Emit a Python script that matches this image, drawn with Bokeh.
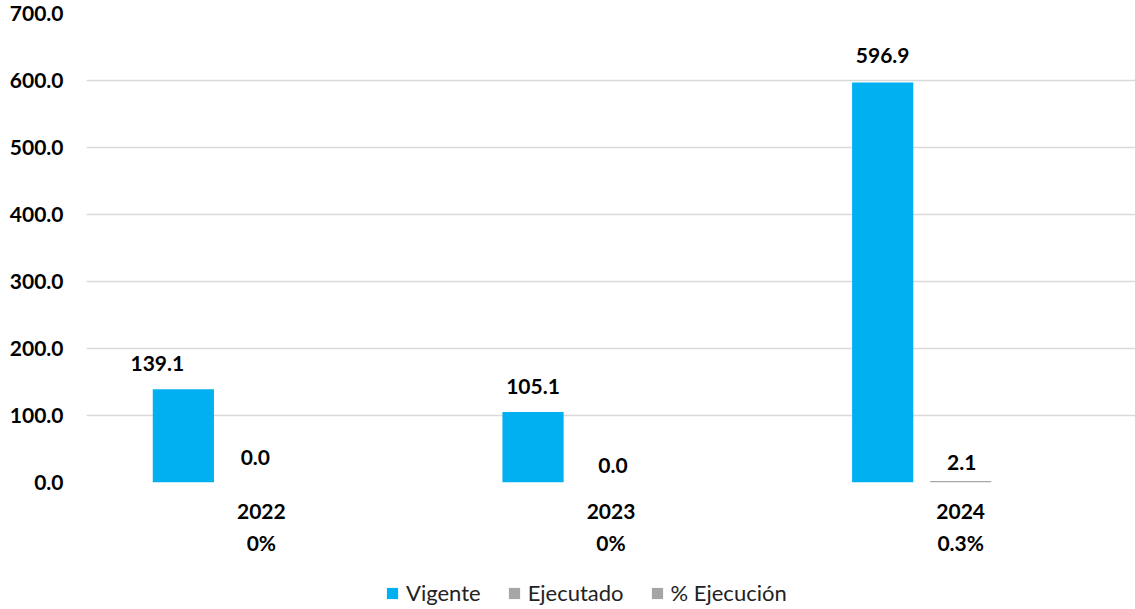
from bokeh.plotting import figure
from bokeh.layouts import column
from bokeh.models import (ColumnDataSource, FactorRange, Range1d, LabelSet, Legend,
                          LegendItem, FixedTicker, NumeralTickFormatter)
from bokeh.core.properties import value
from bokeh.transform import dodge
from bokeh.embed import file_html
from bokeh.resources import INLINE

# ---- data ----
years = ["2022", "2023", "2024"]
pct_labels = ["0%", "0%", "0.3%"]
vigente = [139.1, 105.1, 596.9]
ejecutado = [0.0, 0.0, 2.1]
pct_ejecucion = [0.0, 0.0, 0.003]
y_ticks = [0, 100, 200, 300, 400, 500, 600, 700]
series_names = ["Vigente", "Ejecutado", "% Ejecución"]
series_colors = ["#00B0F0", "#A6A6A6", "#A5A5A5"]

# ---- styling (label nudges in pixels) ----
vig_dx = [-26, 0, 0]
vig_dy = [26, 26, 27]
eje_dx = [-6, 2, 1]
eje_dy = [25, 17, 19]

FONT = "Lato"
factors = [f"{y}\n{p}" for y, p in zip(years, pct_labels)]

src = ColumnDataSource(dict(
    cat=factors, vig=vigente, eje=ejecutado, pct=pct_ejecucion,
    vig_txt=[f"{v:.1f}" for v in vigente],
    eje_txt=[f"{v:.1f}" for v in ejecutado],
    vig_dx=vig_dx, vig_dy=vig_dy, eje_dx=eje_dx, eje_dy=eje_dy,
))

p = figure(x_range=FactorRange(factors=factors), y_range=Range1d(0, 700),
           width=1135, height=573, output_backend="svg", toolbar_location=None,
           min_border_left=86, min_border_right=0, min_border_top=13,
           min_border_bottom=91)
p.outline_line_color = None
p.background_fill_color = "white"
p.border_fill_color = "white"

W = 0.175
OFF = 0.223
p.vbar(x=dodge("cat", -OFF, range=p.x_range), top="vig", width=W, source=src,
       fill_color=series_colors[0], line_color=None)
p.vbar(x=dodge("cat", 0.0, range=p.x_range), top="eje", width=W, source=src,
       fill_color=series_colors[1], line_color=None)
p.vbar(x=dodge("cat", OFF, range=p.x_range), top="pct", width=W, source=src,
       fill_color=series_colors[2], line_color=None)

lab_kw = dict(source=src, text_align="center", text_baseline="middle",
              text_font=value(FONT), text_font_style="bold",
              text_font_size="21px", text_color="black")
p.add_layout(LabelSet(x=dodge("cat", -OFF, range=p.x_range), y="vig", text="vig_txt",
                      x_offset="vig_dx", y_offset="vig_dy", **lab_kw))
p.add_layout(LabelSet(x=dodge("cat", 0.0, range=p.x_range), y="eje", text="eje_txt",
                      x_offset="eje_dx", y_offset="eje_dy", **lab_kw))

# axes
p.yaxis.ticker = FixedTicker(ticks=y_ticks)
p.yaxis.formatter = NumeralTickFormatter(format="0.0")
for ax in (p.xaxis, p.yaxis):
    ax.axis_line_color = None
    ax.major_tick_line_color = None
    ax.minor_tick_line_color = None
    ax.major_tick_out = 0
    ax.major_tick_in = 0
    ax.major_label_text_font = FONT
    ax.major_label_text_font_style = "bold"
    ax.major_label_text_font_size = "21px"
    ax.major_label_text_color = "black"
p.yaxis.major_label_standoff = 23
p.xaxis.major_label_standoff = 15
p.xaxis.major_label_text_line_height = 1.28

p.xgrid.grid_line_color = None
p.ygrid.grid_line_color = "#D9D9D9"
p.ygrid.grid_line_width = 1.5

# ---- legend strip (separate figure, same series swatches) ----
lg = figure(width=1135, height=36, output_backend="svg", toolbar_location=None,
            x_range=Range1d(0, 1), y_range=Range1d(0, 1),
            min_border_left=0, min_border_right=0, min_border_top=0,
            min_border_bottom=0)
lg.axis.visible = False
lg.grid.grid_line_color = None
lg.outline_line_color = None
items = []
for name, col in zip(series_names, series_colors):
    # swatch-only renderer, placed outside the visible range
    r = lg.vbar(x=[5], top=[0], width=0.1, fill_color=col, line_color=None)
    items.append(LegendItem(label=name, renderers=[r]))

legend = Legend(items=items, orientation="horizontal", location=(299, 3))
legend.margin = 0
legend.padding = 4
legend.border_line_color = None
legend.background_fill_alpha = 0
legend.glyph_width = 14
legend.glyph_height = 14
legend.label_standoff = 7
legend.spacing = 26
legend.label_text_font = FONT
legend.label_text_font_size = "22px"
legend.label_text_color = "#222222"
lg.add_layout(legend, "center")

layout = column(p, lg, spacing=0)
open("out.html", "w").write(file_html(layout, INLINE))
